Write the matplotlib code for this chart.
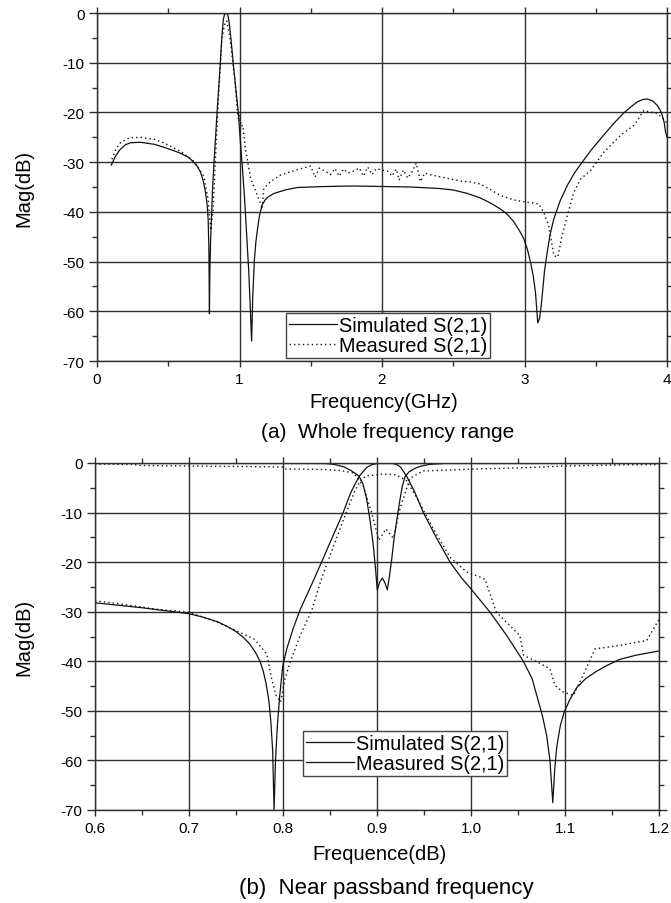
import matplotlib
matplotlib.use("Agg")
import matplotlib.pyplot as plt
from matplotlib.ticker import MultipleLocator, FormatStrFormatter
from matplotlib.lines import Line2D

plt.rcParams['font.family'] = ['Liberation Sans', 'DejaVu Sans']
plt.rcParams['axes.unicode_minus'] = False

# ---------------- (a) whole frequency range ----------------
sim_a_f = [0.10, 0.13, 0.164, 0.20, 0.234, 0.304, 0.40, 0.468, 0.53, 0.585, 0.64, 0.679, 0.705,
           0.726, 0.745, 0.761, 0.772, 0.780, 0.785, 0.789, 0.792, 0.797, 0.801, 0.81, 0.82,
           0.832, 0.843, 0.854, 0.864, 0.877, 0.887, 0.896, 0.906, 0.915, 0.922, 0.93, 0.94,
           0.958, 0.975, 0.992, 1.009, 1.019, 1.035, 1.049, 1.065, 1.077, 1.085, 1.093, 1.105,
           1.115, 1.124, 1.14, 1.159, 1.18, 1.20, 1.241, 1.32, 1.405, 1.6, 1.8, 2.0, 2.2, 2.4,
           2.5, 2.6, 2.69, 2.76, 2.83, 2.88, 2.925, 2.965, 2.995, 3.02, 3.042, 3.062, 3.077,
           3.093, 3.105, 3.115, 3.124, 3.14, 3.159, 3.18, 3.206, 3.25, 3.3, 3.35, 3.405, 3.47,
           3.534, 3.62, 3.697, 3.75, 3.791, 3.83, 3.862, 3.90, 3.932, 3.955, 3.967, 3.98, 3.99,
           4.0]
sim_a_db = [-30.6, -28.8, -27.4, -26.5, -26.1, -26.0, -26.4, -27.0, -27.6, -28.2, -29.0, -30.0, -30.9,
            -32.0, -33.7, -36.0, -38.3, -41.5, -47.0, -60.5, -52.0, -46.0, -43.0, -36.0, -30.6,
            -25.0, -19.8, -15.0, -10.6, -4.5, -1.2, -0.2, 0.0, -0.2, -0.9, -2.5, -5.2,
            -10.6, -15.5, -20.1, -27.0, -30.6, -37.0, -44.0, -52.0, -60.2, -66.0, -57.0, -49.5,
            -46.0, -44.0, -40.8, -38.6, -37.6, -37.0, -36.3, -35.6, -35.1, -34.9, -34.8, -34.9, -35.0, -35.3,
            -35.6, -36.3, -37.2, -38.2, -39.4, -40.5, -42.0, -43.8, -45.4, -47.5, -50.1, -53.0, -56.2,
            -62.3, -61.5, -59.5, -56.9, -52.0, -48.2, -44.5, -41.4, -37.8, -34.7, -32.2, -30.0, -27.5,
            -25.3, -22.4, -20.1, -18.8, -17.9, -17.4, -17.3, -17.7, -18.6, -19.7, -20.6, -22.0, -24.0,
            -25.0]

meas_a_f = [0.105, 0.13, 0.164, 0.20, 0.234, 0.304, 0.40, 0.468, 0.585, 0.679, 0.749, 0.78, 0.79,
            0.798, 0.815, 0.831, 0.852, 0.876, 0.899, 0.911, 0.934, 0.969, 0.986, 0.995, 1.002,
            1.012, 1.023, 1.042, 1.055, 1.077, 1.124, 1.152, 1.158, 1.171, 1.218, 1.288, 1.405,
            1.50, 1.53, 1.56, 1.60, 1.64, 1.67, 1.70, 1.73, 1.76, 1.80, 1.84, 1.87, 1.90, 1.93,
            1.96, 2.00, 2.04, 2.07, 2.10, 2.12, 2.15, 2.18, 2.21, 2.24, 2.27, 2.30, 2.35, 2.45,
            2.55, 2.62, 2.69, 2.76, 2.83, 2.925, 3.0, 3.1, 3.135, 3.17, 3.206, 3.234, 3.264, 3.3,
            3.346, 3.393, 3.463, 3.557, 3.674, 3.768, 3.838, 3.88, 3.932, 3.99, 4.0]
meas_a_db = [-29.4, -27.5, -26.1, -25.5, -25.1, -25.0, -25.4, -26.1, -27.8, -29.8, -32.8, -37.5, -41.0,
             -43.7, -39.5, -29.4, -17.3, -5.2, -1.9, -1.6, -5.2, -13.9, -20.1, -21.8, -20.5,
             -22.8, -22.6, -27.5, -29.5, -33.2, -36.6, -38.6, -39.4, -35.3, -33.9, -32.6, -31.5,
             -30.8, -33.0, -31.2, -31.8, -32.5, -31.3, -32.8, -31.4, -32.2, -31.8, -31.2, -32.8, -31.0, -32.5,
             -31.3, -31.6, -31.8, -32.8, -31.4, -33.6, -31.6, -33.2, -32.0, -30.2, -33.9, -32.2, -32.6, -33.2,
             -33.8, -34.0, -34.4, -35.5, -36.7, -37.6, -38.0, -38.4, -40.1, -42.8, -48.8, -49.1, -44.7, -40.8,
             -36.1, -33.4, -31.7, -28.0, -24.6, -22.6, -19.6, -19.9, -20.2, -21.7, -22.5]

# ---------------- (b) near passband ----------------
sim21_b_f = [0.6, 0.625, 0.65, 0.675, 0.7, 0.715, 0.73, 0.74, 0.75, 0.758, 0.765, 0.771, 0.7755,
             0.779, 0.782, 0.785, 0.787, 0.789, 0.7905, 0.792, 0.794, 0.7965, 0.7997, 0.804,
             0.811, 0.818, 0.83, 0.841, 0.852, 0.864, 0.872, 0.881, 0.889, 0.895, 0.9, 0.915,
             0.921, 0.925, 0.9316, 0.94, 0.9493, 0.963, 0.9777, 0.99, 1.0, 1.0202, 1.038, 1.0557,
             1.065, 1.07, 1.076, 1.0805, 1.084, 1.087, 1.089, 1.0912, 1.095, 1.099, 1.105, 1.1125,
             1.122, 1.1337, 1.145, 1.1585, 1.175, 1.2]
sim21_b_db = [-28.2, -28.7, -29.2, -29.8, -30.4, -31.1, -32.0, -32.9, -34.0, -35.2, -36.6, -38.3, -40.0,
              -42.0, -44.5, -48.0, -52.0, -58.0, -70.0, -60.0, -53.0, -47.0, -41.0, -37.5,
              -33.3, -29.7, -24.7, -20.0, -15.2, -10.0, -6.0, -2.7, -0.9, -0.3, -0.1, 0.0,
              -0.3, -0.8, -2.7, -5.8, -10.0, -15.0, -20.0, -23.2, -25.4, -30.1, -34.8, -40.0,
              -43.5, -46.9, -51.0, -55.0, -60.0, -68.5, -62.0, -57.3, -53.0, -50.3, -47.8, -45.3,
              -43.5, -42.0, -40.8, -39.6, -38.8, -37.9]

sim11_b_f = [0.6, 0.8, 0.846, 0.855, 0.865, 0.872, 0.877, 0.881, 0.885, 0.889, 0.8926, 0.896,
             0.8985, 0.9003, 0.9025, 0.9057, 0.9085, 0.911, 0.9135, 0.9156, 0.918, 0.921, 0.9245,
             0.927, 0.9298, 0.934, 0.94, 0.9457, 0.955, 0.97, 0.98, 1.2]
sim11_b_db = [0.0, 0.0, -0.1, -0.3, -0.8, -1.5, -2.1, -2.7, -4.2, -7.3, -11.6, -16.5,
              -21.5, -25.6, -24.2, -23.2, -24.2, -25.6, -22.5, -19.5, -15.5, -11.6, -7.3,
              -4.6, -2.8, -1.8, -1.1, -0.7, -0.3, -0.1, 0.0, 0.0]

meas21_b_f = [0.6, 0.63, 0.6656, 0.7, 0.73, 0.758, 0.77, 0.7826, 0.788, 0.7926, 0.7975, 0.802,
              0.8074, 0.818, 0.8305, 0.841, 0.864, 0.8766, 0.8837, 0.889, 0.9067, 0.921, 0.9316,
              0.942, 0.96, 0.9777, 0.9954, 1.0096, 1.015, 1.027, 1.052, 1.056, 1.07, 1.084,
              1.0894, 1.098, 1.1088, 1.119, 1.132, 1.158, 1.187, 1.198, 1.2]
meas21_b_db = [-27.8, -28.5, -29.5, -30.1, -32.1, -34.5, -35.6, -38.5, -43.6, -46.9, -48.2, -43.6,
               -40.3, -34.9, -29.8, -23.3, -11.6, -5.5, -3.2, -2.6, -2.2, -2.4, -3.6,
               -6.9, -13.3, -19.0, -22.0, -23.0, -23.5, -30.1, -34.8, -38.8, -40.1, -41.5,
               -44.9, -46.2, -46.9, -42.9, -37.5, -36.8, -35.8, -32.2, -31.5]

meas11_b_f = [0.6, 0.64, 0.65, 0.7, 0.75, 0.8, 0.802, 0.84, 0.86, 0.875, 0.8856, 0.8943, 0.902,
              0.9096, 0.9174, 0.9245, 0.935, 0.949, 0.978, 1.006, 1.05, 1.1, 1.15, 1.2]
meas11_b_db = [-0.2, -0.3, -0.5, -0.6, -0.7, -0.8, -1.2, -1.3, -1.5, -2.0, -4.7, -10.0, -15.6,
               -13.3, -15.2, -9.2, -3.1, -1.6, -1.4, -1.2, -1.0, -0.6, -0.4, -0.3]

legend_labels = ["Simulated S(2,1)", "Measured S(2,1)"]
caption_a = "(a)  Whole frequency range"
caption_b = "(b)  Near passband frequency"

W, H = 671, 904
fig = plt.figure(figsize=(W / 100, H / 100), dpi=100)

ax1 = fig.add_axes([97 / W, 1 - 362 / H, 570 / W, 348 / H])
ax2 = fig.add_axes([95 / W, 1 - 811 / H, 564 / W, 347 / H])

LC = '#111111'
GC = '#2e2e2e'
dot = (0, (1.0, 2.2))

ax1.plot(sim_a_f, sim_a_db, color=LC, lw=0.9)
ax1.plot(meas_a_f, meas_a_db, color=LC, lw=1.0, ls=dot)

ax2.plot(sim21_b_f, sim21_b_db, color=LC, lw=0.9)
ax2.plot(sim11_b_f, sim11_b_db, color=LC, lw=0.9)
ax2.plot(meas21_b_f, meas21_b_db, color=LC, lw=1.0, ls=dot)
ax2.plot(meas11_b_f, meas11_b_db, color=LC, lw=1.0, ls=dot)

ax1.set_xlim(0, 4)
ax1.xaxis.set_major_locator(MultipleLocator(1))
ax1.xaxis.set_minor_locator(MultipleLocator(0.5))
ax2.set_xlim(0.6, 1.2)
ax2.xaxis.set_major_locator(MultipleLocator(0.1))
ax2.xaxis.set_minor_locator(MultipleLocator(0.05))
ax2.xaxis.set_major_formatter(FormatStrFormatter('%.1f'))

for ax in (ax1, ax2):
    ax.set_ylim(-70, 0)
    ax.yaxis.set_major_locator(MultipleLocator(10))
    ax.yaxis.set_minor_locator(MultipleLocator(5))
    ax.grid(True, which='major', color=GC, lw=1.0)
    ax.set_axisbelow(True)
    for s in ax.spines.values():
        s.set_color(GC)
        s.set_linewidth(1.0)
    ax.tick_params(which='major', direction='out', length=6, width=1.0, color=GC,
                   labelsize=11, pad=3, top=True, right=True)
    ax.tick_params(which='minor', direction='out', length=3.5, width=1.0, color=GC,
                   top=True, right=True)
    ax.tick_params(axis='x', which='major', length=4, pad=4)
    ax.set_ylabel('Mag(dB)', fontsize=14.5)
    ax.yaxis.label.set_va('center')

ax1.set_xlabel('Frequency(GHz)', fontsize=14.5)
ax2.set_xlabel('Frequence(dB)', fontsize=14.5)
ax1.xaxis.label.set_va('center')
ax2.xaxis.label.set_va('center')
ax1.xaxis.set_label_coords((384 - 97) / 570, (362 - 403) / 348)
ax2.xaxis.set_label_coords((380 - 95) / 564, (811 - 855) / 347)
ax1.yaxis.set_label_coords((24 - 97) / 570, 0.5)
ax2.yaxis.set_label_coords((24 - 95) / 564, 0.5)

h_a = [Line2D([], [], color=LC, lw=0.9), Line2D([], [], color=LC, lw=1.0, ls=dot)]
h_b = [Line2D([], [], color=LC, lw=0.9), Line2D([], [], color=LC, lw=0.9)]
leg_kw = dict(loc='lower left', fontsize=14.3, handlelength=2.4, handletextpad=0.12,
              borderpad=0.15, labelspacing=0.05, borderaxespad=0, fancybox=False,
              framealpha=1, edgecolor='#444444')
l1 = ax1.legend(h_a, legend_labels, bbox_to_anchor=((286 - 97) / 570, (362 - 359) / 348), **leg_kw)
l2 = ax2.legend(h_b, legend_labels, bbox_to_anchor=((303 - 95) / 564, (811 - 777) / 347), **leg_kw)
for l in (l1, l2):
    l.get_frame().set_linewidth(1.0)

fig.text(388 / W, 1 - 432 / H, caption_a, fontsize=15, ha='center', va='center')
fig.text(386 / W, 1 - 889 / H, caption_b, fontsize=16, ha='center', va='center')

fig.savefig('out.png', dpi=100)
